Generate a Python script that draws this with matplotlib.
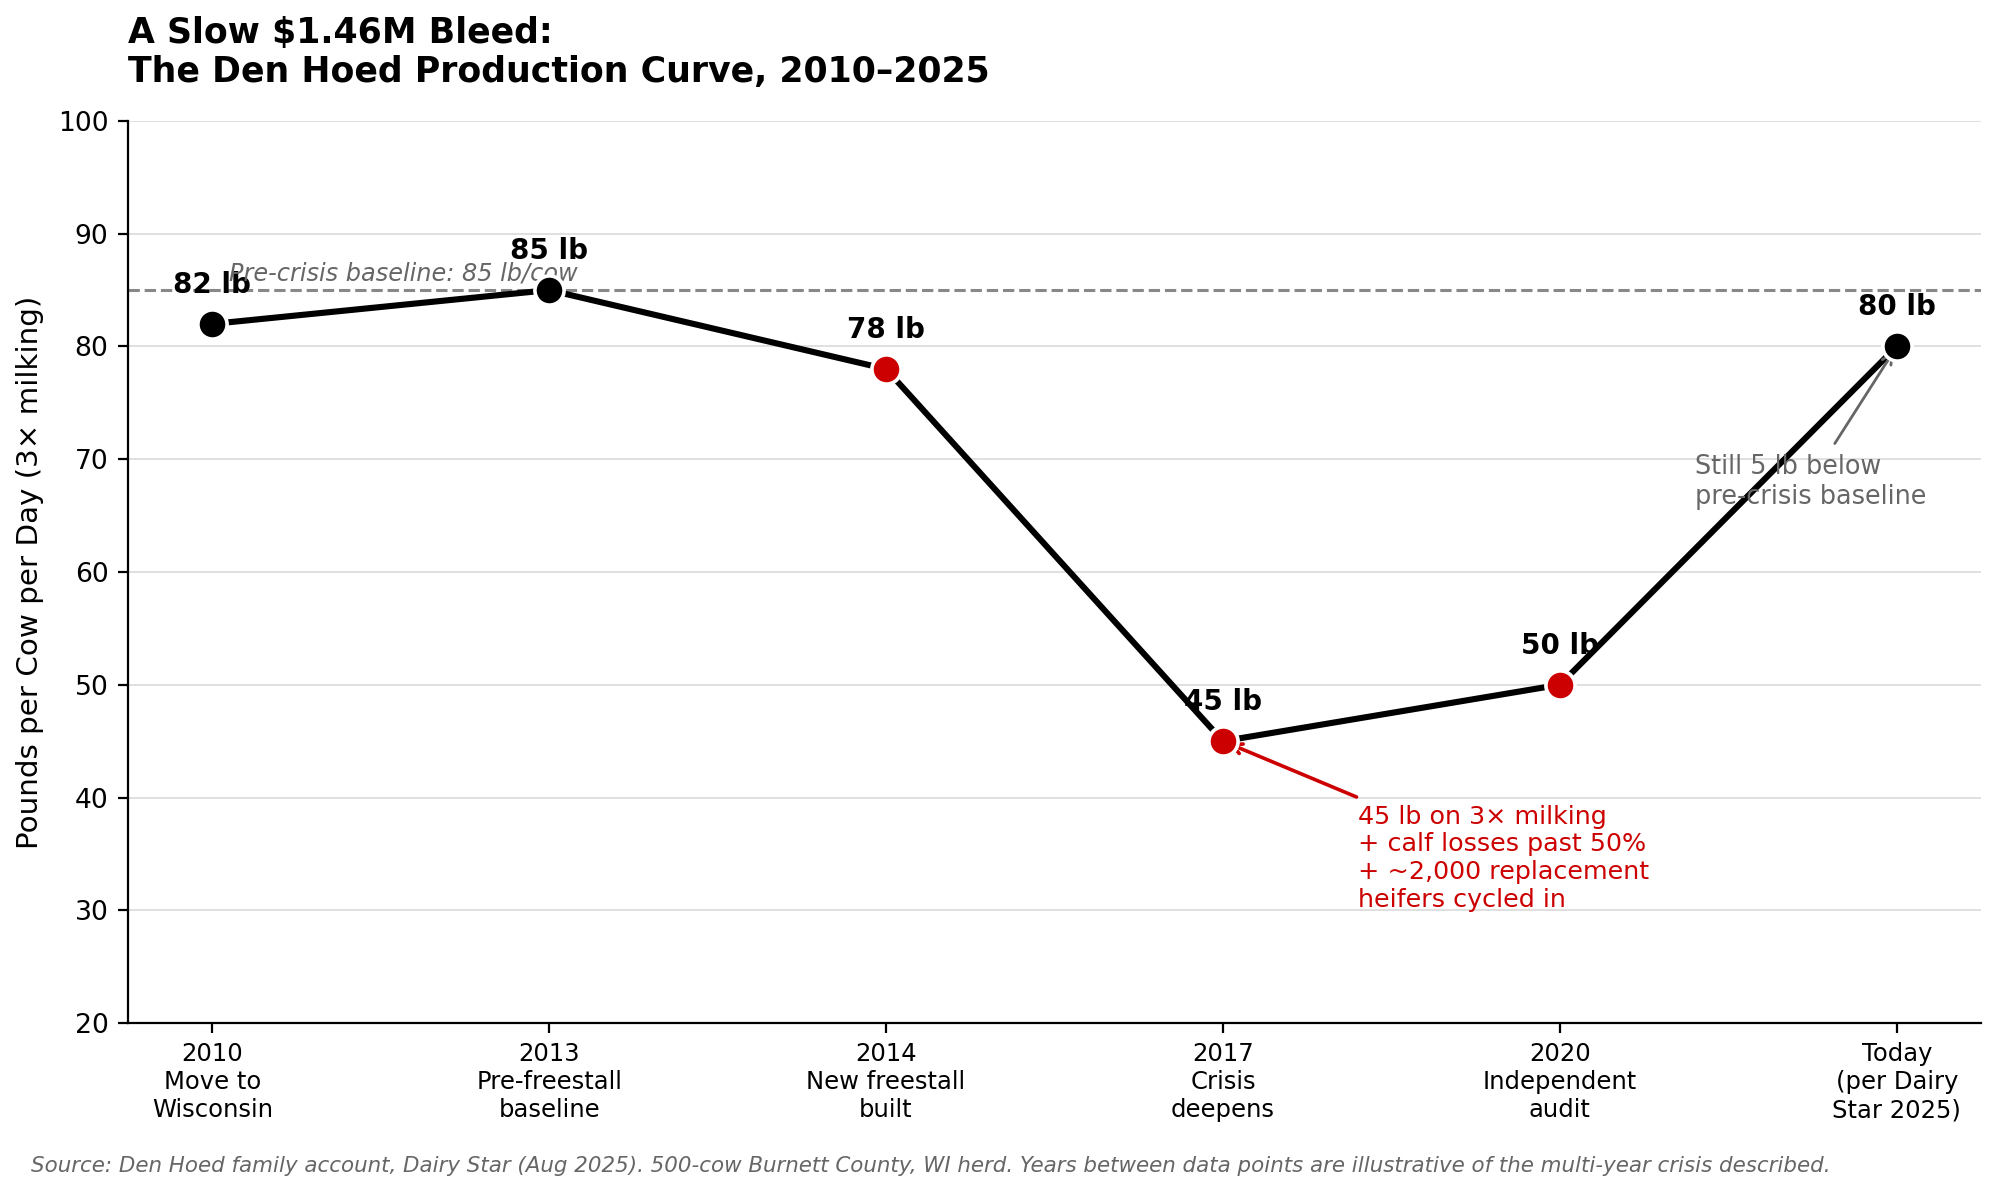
import matplotlib
matplotlib.use("Agg")
import matplotlib.pyplot as plt

# data
stages = ["2010\nMove to\nWisconsin", "2013\nPre-freestall\nbaseline",
          "2014\nNew freestall\nbuilt", "2017\nCrisis\ndeepens",
          "2020\nIndependent\naudit", "Today\n(per Dairy\nStar 2025)"]
lbs_per_cow = [82, 85, 78, 45, 50, 80]
is_crisis = [False, False, True, True, True, False]
baseline = 85

RED = "#cc0000"
GREY = "#666666"

fig = plt.figure(figsize=(10, 5.97), dpi=200)
ax = fig.add_axes([0.064, 0.1432, 0.9265, 0.7555])

x = list(range(len(stages)))
ax.plot(x, lbs_per_cow, "-", color="black", linewidth=2.2, zorder=3)
for xi, val, bad in zip(x, lbs_per_cow, is_crisis):
    ax.plot(xi, val, "o", markersize=10.5, color=RED if bad else "black",
            markeredgecolor="white", markeredgewidth=1.3, zorder=4)
    ax.annotate(f"{val} lb", (xi, val), xytext=(0, 9), textcoords="offset points",
                ha="center", va="bottom", fontsize=10, fontweight="bold")

ax.axhline(baseline, color="#888888", linestyle="--", linewidth=1.1, zorder=2)
ax.text(0.05, baseline + 0.4, "Pre-crisis baseline: 85 lb/cow", fontsize=8.65,
        style="italic", color=GREY, ha="left", va="bottom")

ax.annotate("45 lb on 3\u00d7 milking\n+ calf losses past 50%\n+ ~2,000 replacement\nheifers cycled in",
            xy=(3, 45), xytext=(3.40, 34.6), ha="left", va="center",
            fontsize=9.15, color=RED,
            arrowprops=dict(arrowstyle="->", color=RED, lw=1.3))
ax.annotate("Still 5 lb below\npre-crisis baseline",
            xy=(5, 80), xytext=(4.40, 68.0), ha="left", va="center",
            fontsize=9.2, color=GREY,
            arrowprops=dict(arrowstyle="->", color=GREY, lw=1.0))

ax.set_xlim(-0.25, 5.25)
ax.set_ylim(20, 100)
ax.set_yticks(range(20, 101, 10))
ax.set_xticks(x)
ax.set_xticklabels(stages, fontsize=8.75)
ax.tick_params(axis="y", labelsize=9.6)
ax.set_ylabel("Pounds per Cow per Day (3\u00d7 milking)", fontsize=10.6, labelpad=5)
ax.yaxis.grid(True, color="#e0e0e0", linewidth=0.7)
ax.set_axisbelow(True)
ax.spines["top"].set_visible(False)
ax.spines["right"].set_visible(False)

ax.set_title("A Slow $1.46M Bleed:\nThe Den Hoed Production Curve, 2010\u20132025",
             loc="left", fontsize=12.5, fontweight="bold", pad=14)

fig.text(0.0155, 0.015, "Source: Den Hoed family account, Dairy Star (Aug 2025). 500-cow Burnett County, WI herd. "
         "Years between data points are illustrative of the multi-year crisis described.",
         fontsize=7.7, style="italic", color=GREY, ha="left", va="bottom")

fig.savefig("out.png", dpi=200)
